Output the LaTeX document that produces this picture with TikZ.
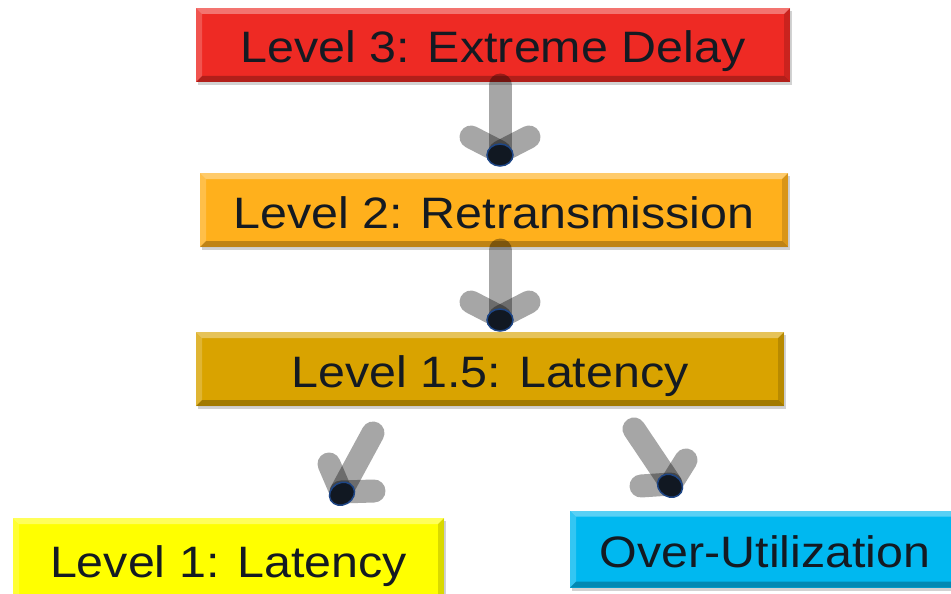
\documentclass[tikz,border=0pt]{standalone}
\usepackage{fontspec}
\newfontfamily\lblfont[FakeStretch=1.1]{Liberation Sans}
\usetikzlibrary{shadows}

\definecolor{lvlred}{HTML}{EE2A24}
\definecolor{lvlorange}{HTML}{FFB01C}
\definecolor{lvlgold}{HTML}{D9A300}
\definecolor{lvlyellow}{HTML}{FFFF00}
\definecolor{lvlcyan}{HTML}{00B8F0}
\definecolor{txtdark}{HTML}{141A22}
\definecolor{blobfill}{HTML}{111822}
\definecolor{blobedge}{HTML}{1E4686}

% bevelled edges drawn inside each box
\newcommand\bevelstrips{%
  \fill[white,opacity=.35]
    (path picture bounding box.north west) -- (path picture bounding box.north east)
    -- ([xshift=-6pt,yshift=-6pt]path picture bounding box.north east)
    -- ([xshift=6pt,yshift=-6pt]path picture bounding box.north west) -- cycle;
  \fill[white,opacity=.2]
    (path picture bounding box.north west) -- (path picture bounding box.south west)
    -- ([xshift=6pt,yshift=6pt]path picture bounding box.south west)
    -- ([xshift=6pt,yshift=-6pt]path picture bounding box.north west) -- cycle;
  \fill[black,opacity=.25]
    (path picture bounding box.south west) -- (path picture bounding box.south east)
    -- ([xshift=-6pt,yshift=6pt]path picture bounding box.south east)
    -- ([xshift=6pt,yshift=6pt]path picture bounding box.south west) -- cycle;
  \fill[black,opacity=.15]
    (path picture bounding box.north east) -- (path picture bounding box.south east)
    -- ([xshift=-6pt,yshift=6pt]path picture bounding box.south east)
    -- ([xshift=-6pt,yshift=-6pt]path picture bounding box.north east) -- cycle;
}

\tikzset{
  levelbox/.style={rectangle, fill=#1, inner sep=0pt, text=txtdark,
    font=\lblfont\fontsize{44}{44}\selectfont,
    text height=40pt, text depth=4pt,
    drop shadow={shadow xshift=2pt, shadow yshift=-3pt, opacity=.35},
    path picture={\bevelstrips}},
  arrowbar/.style={draw=black, line width=23pt, line cap=round, draw opacity=.35},
  tipblob/.style={fill=blobfill, draw=blobedge, line width=1.5pt},
}

\begin{document}
\begin{tikzpicture}[x=1pt,y=-1pt]
  \useasboundingbox[fill=white] (0,0) rectangle (951,594);

  % level boxes
  \node[levelbox=lvlred, minimum width=594pt, minimum height=74pt] (l3) at (493,45) {Level 3: Extreme Delay};
  \node[levelbox=lvlorange, minimum width=588pt, minimum height=74pt] (l2) at (494,210) {Level 2: Retransmission};
  \node[levelbox=lvlgold, minimum width=588pt, minimum height=74pt] (l15) at (490,369) {Level 1.5: Latency};
  \node[levelbox=lvlyellow, minimum width=431pt, minimum height=82pt] (l1) at (228.5,559) {Level 1: Latency};
  \node[levelbox=lvlcyan, minimum width=390pt, minimum height=77pt] (ou) at (765,549) {Over-Utilization};

  % arrow geometry
  \coordinate (a1s) at (500,85);   \coordinate (a1t) at (500,152);
  \coordinate (a1l) at (471,137);  \coordinate (a1r) at (529,137);
  \coordinate (a2s) at (500,250);  \coordinate (a2t) at (500,317);
  \coordinate (a2l) at (471,302);  \coordinate (a2r) at (529,302);
  \coordinate (a3s) at (373,433);  \coordinate (a3t) at (341,492);
  \coordinate (a3l) at (329,464);  \coordinate (a3r) at (374,491);
  \coordinate (a4s) at (634,429);  \coordinate (a4t) at (671,484);
  \coordinate (a4l) at (641,486);  \coordinate (a4r) at (686,460);

  % shafts and heads
  \foreach \k in {1,2,3,4}{
    \draw[arrowbar] (a\k s) -- (a\k t);
    \draw[arrowbar] (a\k l) -- (a\k t);
    \draw[arrowbar] (a\k r) -- (a\k t);
  }

  % dark caps at the arrow tips
  \draw[tipblob] ([yshift=-3pt]a1t) ellipse [x radius=13, y radius=11];
  \draw[tipblob] ([yshift=-3pt]a2t) ellipse [x radius=13, y radius=11];
  \draw[tipblob, rotate around={30:(a3t)}] ([yshift=-2pt]a3t) ellipse [x radius=13, y radius=11];
  \draw[tipblob, rotate around={-30:(a4t)}] ([yshift=-2pt]a4t) ellipse [x radius=13, y radius=11];
\end{tikzpicture}
\end{document}
